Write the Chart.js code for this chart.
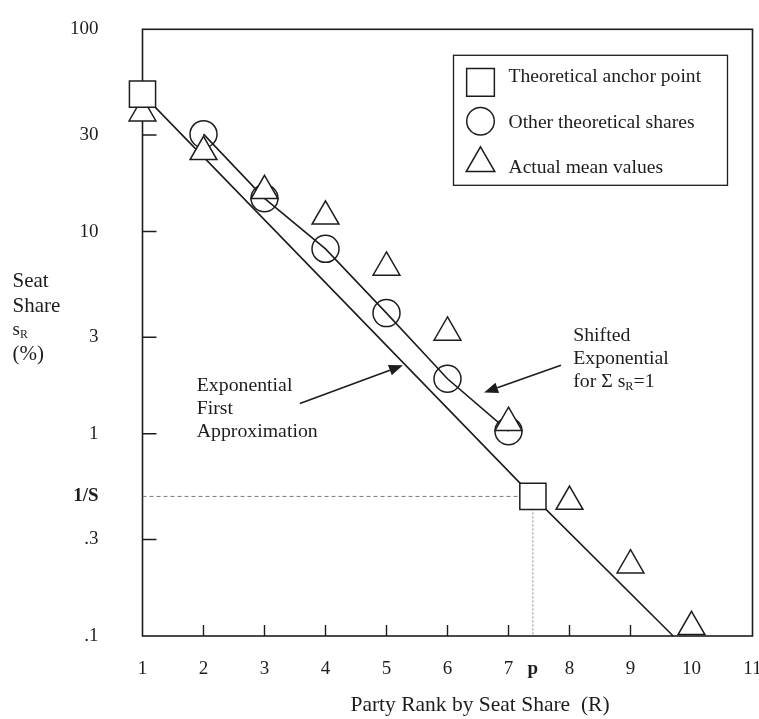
<!DOCTYPE html>
<html>
<head>
<meta charset="utf-8">
<script src="https://cdn.jsdelivr.net/npm/chart.js@4.4.1/dist/chart.umd.min.js"></script>
<style>
  html, body { margin: 0; padding: 0; background: #fff; }
  #wrap { width: 759px; height: 719px; }
</style>
</head>
<body>
<div id="wrap"><canvas id="c" width="759" height="719"></canvas></div>
<script>
// Seat share s_R (%) by party rank R
const anchorRanks = [1, 7.40];
const anchorShares = [47.8, 0.49];

const theoryRanks = [2, 3, 4, 5, 6, 7];
const theoryShares = [30.3, 14.6, 8.21, 3.95, 1.87, 1.03];

const actualRanks = [1, 2, 3, 4, 5, 6, 7, 8, 9, 10];
const actualShares = [38.5, 24.8, 15.9, 11.9, 6.64, 3.17, 1.135, 0.462, 0.224, 0.111];

const firstApproxRanks = [1, 7.40, 9.70];
const firstApproxShares = [47.8, 0.49, 0.1];

const pRank = 7.40;   // p
const invS = 0.49;    // 1/S

const xTickValues = [1, 2, 3, 4, 5, 6, 7, pRank, 8, 9, 10, 11];
const xTickLabels = ['1', '2', '3', '4', '5', '6', '7', 'p', '8', '9', '10', '11'];
const yTickValues = [0.1, 0.3, invS, 1, 3, 10, 30, 100];
const yTickLabels = ['.1', '.3', '1/S', '1', '3', '10', '30', '100'];
const xMarkValues = [2, 3, 4, 5, 6, 7, 8, 9];
const yMarkValues = [0.3, 1, 3, 10, 30];

const FONT = '"Liberation Serif", "Times New Roman", serif';
const INK = '#1d1d1d';

const pts = (xs, ys) => xs.map((x, i) => ({ x, y: ys[i] }));

// Text notes and arrows, placed in data coordinates (R, s_R)
const notes = [
  { x: 1.89, y: 1.63, lines: [[{ t: 'Exponential' }], [{ t: 'First' }], [{ t: 'Approximation' }]] },
  { x: 8.06, y: 2.88, lines: [[{ t: 'Shifted' }], [{ t: 'Exponential' }],
      [{ t: 'for \u03A3 s' }, { t: 'R', sub: true }, { t: '=1' }]] }
];
const arrows = [
  { from: [3.58, 1.41], to: [5.27, 2.18] },
  { from: [7.86, 2.18], to: [6.60, 1.60] }
];

function drawRich(ctx, parts, x, y, size) {
  let cx = x;
  for (const p of parts) {
    const s = p.sub ? size * 0.62 : size;
    ctx.font = s + 'px ' + FONT;
    ctx.fillText(p.t, cx, y + (p.sub ? size * 0.16 : 0));
    cx += ctx.measureText(p.t).width;
  }
}

// Frame and inward tick marks
const frame = {
  id: 'frame',
  beforeDatasetsDraw(chart) {
    const { ctx, chartArea: a, scales } = chart;
    ctx.save();
    ctx.strokeStyle = INK;
    ctx.lineWidth = 1.6;
    ctx.strokeRect(a.left, a.top, a.right - a.left, a.bottom - a.top);
    ctx.lineWidth = 1.4;
    ctx.beginPath();
    for (const v of yMarkValues) {
      const y = scales.y.getPixelForValue(v);
      ctx.moveTo(a.left, y); ctx.lineTo(a.left + 14, y);
    }
    for (const v of xMarkValues) {
      const x = scales.x.getPixelForValue(v);
      ctx.moveTo(x, a.bottom); ctx.lineTo(x, a.bottom - 11);
    }
    ctx.stroke();
    ctx.restore();
  }
};

// Notes, arrows, axis captions and the legend box
const extras = {
  id: 'extras',
  afterDatasetsDraw(chart) {
    const { ctx, chartArea: a, scales } = chart;
    const X = v => scales.x.getPixelForValue(v);
    const Y = v => scales.y.getPixelForValue(v);
    ctx.save();
    ctx.fillStyle = INK;
    ctx.strokeStyle = INK;
    ctx.textBaseline = 'alphabetic';
    ctx.textAlign = 'left';

    for (const n of notes) {
      n.lines.forEach((ln, i) => drawRich(ctx, ln, X(n.x), Y(n.y) + i * 23, 19.8));
    }

    for (const ar of arrows) {
      const x1 = X(ar.from[0]), y1 = Y(ar.from[1]);
      const x2 = X(ar.to[0]), y2 = Y(ar.to[1]);
      const ang = Math.atan2(y2 - y1, x2 - x1);
      const L = 14, W = 5.5;
      const bx = x2 - L * Math.cos(ang), by = y2 - L * Math.sin(ang);
      ctx.lineWidth = 1.6;
      ctx.beginPath(); ctx.moveTo(x1, y1); ctx.lineTo(bx, by); ctx.stroke();
      ctx.beginPath();
      ctx.moveTo(x2, y2);
      ctx.lineTo(bx + W * Math.sin(ang), by - W * Math.cos(ang));
      ctx.lineTo(bx - W * Math.sin(ang), by + W * Math.cos(ang));
      ctx.closePath(); ctx.fill();
    }

    // y caption
    const lx = a.left - 130;
    drawRich(ctx, [{ t: 'Seat' }], lx, 287, 21);
    drawRich(ctx, [{ t: 'Share' }], lx, 312, 21);
    drawRich(ctx, [{ t: 's' }, { t: 'R', sub: true }], lx, 335, 19);
    drawRich(ctx, [{ t: '(%)' }], lx, 360, 21);

    // x caption
    ctx.font = '21.5px ' + FONT;
    ctx.textAlign = 'center';
    ctx.fillText('Party Rank by Seat Share  (R)', 480, 711);

    // legend box
    const items = chart.data.datasets.filter(d => d.legendRow !== undefined)
      .sort((p, q) => p.legendRow - q.legendRow);
    const W = 274, H = 130;
    const x0 = a.right - 25 - W, y0 = a.top + 26;
    ctx.lineWidth = 1.3;
    ctx.strokeRect(x0, y0, W, H);
    const baselines = [27, 73, 118];
    const iconY = [27, 66, 108];
    const iconR = { rect: 19.6, circle: 13.8, triangle: 16.5 };
    ctx.textAlign = 'left';
    ctx.font = '19.6px ' + FONT;
    items.forEach((d, i) => {
      ctx.fillStyle = '#fff';
      ctx.strokeStyle = INK;
      ctx.lineWidth = 1.5;
      Chart.helpers.drawPoint(ctx, {
        pointStyle: d.pointStyle, rotation: 0, radius: iconR[d.pointStyle], borderWidth: 1.5
      }, x0 + 27, y0 + iconY[i]);
      ctx.fillStyle = INK;
      ctx.fillText(d.label, x0 + 55, y0 + baselines[i]);
    });
    ctx.restore();
  }
};

const markerBase = {
  showLine: false,
  borderColor: INK,
  backgroundColor: '#fff',
  pointBorderColor: INK,
  pointBackgroundColor: '#fff',
  pointBorderWidth: 1.5,
  clip: false
};

new Chart(document.getElementById('c'), {
  type: 'scatter',
  data: {
    datasets: [
      Object.assign({}, markerBase, {
        label: 'Theoretical anchor point', legendRow: 0,
        data: pts(anchorRanks, anchorShares),
        pointStyle: 'rect', pointRadius: 18.5
      }),
      Object.assign({}, markerBase, {
        label: 'Actual mean values', legendRow: 2,
        data: pts(actualRanks, actualShares),
        pointStyle: 'triangle', pointRadius: 15.5
      }),
      {
        label: 'Exponential First Approximation',
        data: pts(firstApproxRanks, firstApproxShares),
        showLine: true, borderColor: INK, borderWidth: 1.6, pointRadius: 0, clip: false
      },
      {
        label: '1/S level',
        data: [{ x: 1, y: invS }, { x: pRank, y: invS }],
        showLine: true, borderColor: '#777', borderWidth: 1, borderDash: [4, 3], pointRadius: 0
      },
      {
        label: 'p rank',
        data: [{ x: pRank, y: invS }, { x: pRank, y: 0.1 }],
        showLine: true, borderColor: '#888', borderWidth: 1, borderDash: [2, 2], pointRadius: 0
      },
      Object.assign({}, markerBase, {
        label: 'Other theoretical shares', legendRow: 1,
        data: pts(theoryRanks, theoryShares),
        showLine: true, borderWidth: 1.6,
        pointStyle: 'circle', pointRadius: 13.5,
        pointBackgroundColor: 'rgba(255,255,255,0)'
      })
    ]
  },
  options: {
    responsive: false,
    animation: false,
    devicePixelRatio: 1,
    events: [],
    layout: { autoPadding: false, padding: { top: 29.3, right: 6.5, left: 0, bottom: 0 } },
    plugins: { legend: { display: false }, tooltip: { enabled: false } },
    scales: {
      x: {
        type: 'linear', min: 1, max: 11,
        grid: { display: false, drawTicks: false },
        border: { display: false },
        afterBuildTicks: s => { s.ticks = xTickValues.map(v => ({ value: v })); },
        afterFit: s => { s.height = 83; s.paddingLeft = 0; s.paddingRight = 0; },
        ticks: {
          autoSkip: false, maxRotation: 0, padding: 22, color: INK,
          callback: (v, i) => xTickLabels[i],
          font: c => ({ family: FONT, size: 19, weight: xTickLabels[c.index] === 'p' ? 'bold' : 'normal' })
        }
      },
      y: {
        type: 'logarithmic', min: 0.1, max: 100,
        grid: { display: false, drawTicks: false },
        border: { display: false },
        afterBuildTicks: s => { s.ticks = yTickValues.map(v => ({ value: v })); },
        afterFit: s => { s.width = 142.5; s.paddingTop = 0; s.paddingBottom = 0; },
        ticks: {
          autoSkip: false, padding: 44, color: INK,
          callback: (v, i) => yTickLabels[i],
          font: c => ({ family: FONT, size: 19, weight: yTickLabels[c.index] === '1/S' ? 'bold' : 'normal' })
        }
      }
    }
  },
  plugins: [frame, extras]
});
</script>
</body>
</html>
